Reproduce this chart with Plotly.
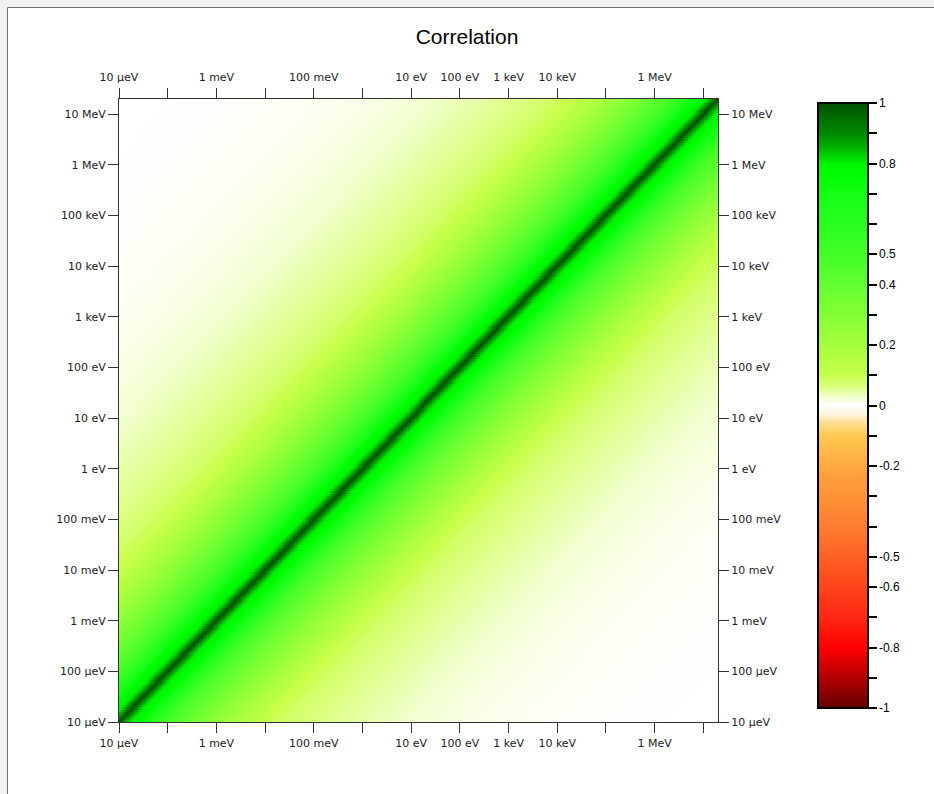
import numpy as np
import plotly.graph_objects as go

# ---------------- data ----------------
title_text = "Correlation"
log_e_min = -5.0                 # 10 µeV
log_e_max = float(np.log10(2e7)) # ~20 MeV
decades = list(range(-5, 8))
x_tick_text = ["10 µeV", "", "1 meV", "", "100 meV", "", "10 eV", "100 eV",
               "1 keV", "10 keV", "", "1 MeV", ""]
y_tick_text = ["10 µeV", "100 µeV", "1 meV", "10 meV", "100 meV", "1 eV", "10 eV",
               "100 eV", "1 keV", "10 keV", "100 keV", "1 MeV", "10 MeV"]

# correlation as a function of distance (in decades of energy) from the diagonal
dist_decades = [0.0, 0.05, 0.1, 0.2, 0.3, 0.4, 0.6, 0.8, 1.0, 1.5, 2.0, 2.5, 3.0,
                3.5, 4.0, 5.0, 6.0, 7.0, 8.0, 9.0, 10.0, 12.5]
corr_profile = [1.0, 0.95, 0.89, 0.82, 0.79, 0.77, 0.68, 0.57, 0.48, 0.37, 0.26, 0.17, 0.10,
                0.075, 0.06, 0.042, 0.025, 0.015, 0.008, 0.004, 0.002, 0.0]

cbar_tickvals = [1.0, 0.9, 0.8, 0.7, 0.6, 0.5, 0.4, 0.3, 0.2, 0.1, 0.0,
                 -0.1, -0.2, -0.3, -0.4, -0.5, -0.6, -0.7, -0.8, -0.9, -1.0]
cbar_ticktext = ["1", "", "0.8", "", "", "0.5", "0.4", "", "0.2", "", "0",
                 "", "-0.2", "", "", "-0.5", "-0.6", "", "-0.8", "", "-1"]

# colour map (value -> colour)
cmap_values = [-1.0, -0.9, -0.8, -0.7, -0.56, -0.42, -0.23, -0.10, -0.06, -0.03, 0.0,
               0.03, 0.06, 0.10, 0.17, 0.26, 0.37, 0.47, 0.60, 0.70, 0.76, 0.80,
               0.85, 0.90, 0.95, 1.0]
cmap_colors = ["rgb(100,0,0)", "rgb(180,0,0)", "rgb(255,0,0)", "rgb(255,40,20)",
               "rgb(255,80,30)", "rgb(255,120,45)", "rgb(255,160,60)", "rgb(255,200,80)",
               "rgb(255,220,140)", "rgb(255,245,220)", "rgb(255,255,255)",
               "rgb(240,255,200)", "rgb(220,255,130)", "rgb(200,255,75)",
               "rgb(175,255,62)", "rgb(145,255,55)", "rgb(110,255,50)", "rgb(75,255,40)",
               "rgb(40,255,30)", "rgb(20,255,20)", "rgb(0,255,0)", "rgb(0,245,0)",
               "rgb(0,180,0)", "rgb(0,135,0)", "rgb(0,110,0)", "rgb(0,80,0)"]

# ---------------- build matrix ----------------
n_cells = 300
edges = np.linspace(log_e_min, log_e_max, n_cells + 1)
centers = 0.5 * (edges[:-1] + edges[1:])
dist = np.abs(centers[:, None] - centers[None, :])
z = np.round(np.interp(dist, dist_decades, corr_profile), 4)

colorscale = [[(v + 1) / 2, c] for v, c in zip(cmap_values, cmap_colors)]

W, H = 934, 794
L, R, T, B = 119, 216, 99, 72
pw, ph = W - L - R, H - T - B

def px_x(p):
    return (p - L) / pw

def px_y(p):
    return (H - B - p) / ph

fig = go.Figure()
fig.add_trace(go.Heatmap(
    x=edges, y=edges, z=z, zmin=-1, zmax=1, colorscale=colorscale,
    hoverinfo="skip",
    colorbar=dict(
        thickness=50, thicknessmode="pixels", lenmode="pixels", len=605,
        x=px_x(818), xanchor="left", y=px_y(405.5), yanchor="middle",
        xpad=0, ypad=0, outlinewidth=2, outlinecolor="black",
        ticks="outside", ticklen=8, tickwidth=2, tickcolor="black",
        tickmode="array", tickvals=cbar_tickvals, ticktext=cbar_ticktext,
        tickfont=dict(family="Liberation Sans, Arial, sans-serif", size=12, color="black"),
    ),
))
fig.add_trace(go.Scatter(
    x=[log_e_min, log_e_max], y=[log_e_min, log_e_max], xaxis="x2", yaxis="y2",
    mode="markers", marker=dict(opacity=0), hoverinfo="skip", showlegend=False,
))

tick_font = dict(family="DejaVu Sans, Verdana, sans-serif", size=11, color="#222")
common = dict(range=[log_e_min, log_e_max], tickmode="array", tickvals=decades,
              ticks="outside", ticklen=10, tickwidth=1, tickcolor="#333",
              showline=True, linecolor="#333", linewidth=1, showgrid=False,
              zeroline=False, tickfont=tick_font, fixedrange=True)

fig.update_layout(
    width=W, height=H,
    margin=dict(l=L, r=R, t=T, b=B, pad=0),
    paper_bgcolor="#f0f0f0", plot_bgcolor="white",
    showlegend=False,
    title=dict(text=title_text, x=0.5, xref="container", xanchor="center",
               y=1 - 37 / H, yref="container", yanchor="middle",
               font=dict(family="Liberation Sans, Arial, sans-serif", size=21, color="black")),
    xaxis=dict(ticktext=x_tick_text, side="bottom", anchor="y", ticklabelstandoff=1, **common),
    xaxis2=dict(ticktext=x_tick_text, side="top", overlaying="x", anchor="y",
                ticklabelstandoff=3, **common),
    yaxis=dict(ticktext=y_tick_text, side="left", anchor="x", **common),
    yaxis2=dict(ticktext=y_tick_text, side="right", overlaying="y", anchor="x", **common),
    shapes=[dict(type="rect", xref="paper", yref="paper", layer="below",
                 x0=px_x(7.5), x1=px_x(950), y0=px_y(810), y1=px_y(7.5),
                 fillcolor="white", line=dict(color="#707070", width=1))],
)

fig.write_html("out.html")
